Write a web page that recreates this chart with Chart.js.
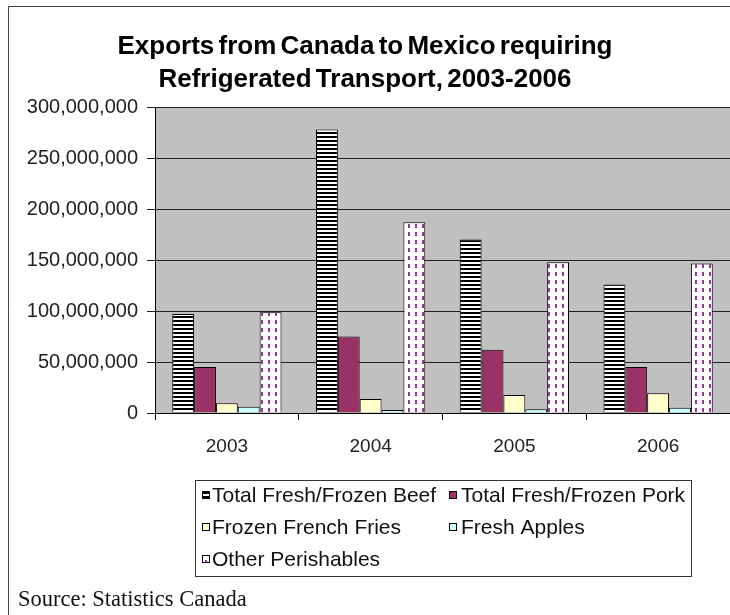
<!DOCTYPE html>
<html lang="en">
<head>
    <meta charset="UTF-8">
    <title>Exports from Canada to Mexico requiring Refrigerated Transport</title>
    <script src="https://cdn.jsdelivr.net/npm/chart.js"></script>
    <style>
        html, body { margin: 0; padding: 0; background: #fff; overflow: hidden; }
        #wrap { position: relative; width: 730px; height: 615px; }
    </style>
</head>
<body>
    <div id="wrap"><canvas id="exportsChart" width="730" height="615"></canvas></div>

    <script>
// values
const years = ['2003', '2004', '2005', '2006'];
const beef = [97000000, 278000000, 170000000, 126000000];
const pork = [45000000, 75000000, 62000000, 45000000];
const fries = [9500000, 13700000, 17600000, 19300000];
const apples = [6200000, 2900000, 3600000, 5200000];
const other = [98700000, 187000000, 147700000, 146700000];
const seriesNames = ['Total Fresh/Frozen Beef', 'Total Fresh/Frozen Pork', 'Frozen French Fries', 'Fresh Apples', 'Other Perishables'];
const yTicks = [0, 50000000, 100000000, 150000000, 200000000, 250000000, 300000000];
const titleLines = ['Exports from Canada to Mexico requiring', 'Refrigerated Transport, 2003-2006'];
const sourceText = 'Source: Statistics Canada';

const SANS = "'Liberation Sans', Arial, sans-serif";

function makePattern(w, h, draw) {
    const c = document.createElement('canvas');
    c.width = w; c.height = h;
    const g = c.getContext('2d');
    draw(g);
    return c.getContext('2d').createPattern(c, 'repeat');
}

// horizontal black/white stripes
const stripes = makePattern(4, 4, g => {
    g.fillStyle = '#fff'; g.fillRect(0, 0, 4, 4);
    g.fillStyle = '#000'; g.fillRect(0, 0, 4, 2);
});
// white with purple dashed vertical lines
const dashes = makePattern(7, 8, g => {
    g.fillStyle = '#fff'; g.fillRect(0, 0, 7, 8);
    g.fillStyle = '#993399'; g.fillRect(2, 0, 2, 4);
});

const fills = [stripes, '#993366', '#FFFFCC', '#CCFFFF', dashes];
const values = [beef, pork, fries, apples, other];

// plot background, outer frame; narrow word gaps for the title
const backdrop = {
    id: 'backdrop',
    beforeDraw(chart) {
        const { ctx, chartArea: a } = chart;
        ctx.save();
        ctx.fillStyle = '#C0C0C0';
        ctx.fillRect(a.left, a.top, a.right - a.left, a.bottom - a.top);
        ctx.strokeStyle = '#444';
        ctx.lineWidth = 1;
        ctx.beginPath();
        ctx.moveTo(8.5, 615);
        ctx.lineTo(8.5, 6.5);
        ctx.lineTo(730, 6.5);
        ctx.stroke();
        ctx.restore();
        ctx.wordSpacing = '-3px';
    }
};

// boxed legend in two columns + source note
const boxLegend = {
    id: 'boxLegend',
    afterDraw(chart) {
        const ctx = chart.ctx;
        ctx.wordSpacing = '0px';
        ctx.save();
        ctx.fillStyle = '#fff';
        ctx.fillRect(195.5, 480.5, 496, 96);
        ctx.strokeStyle = '#333';
        ctx.lineWidth = 1;
        ctx.strokeRect(195.5, 480.5, 496, 96);

        const cols = [[202, 212], [449, 461]];
        const rows = [495, 527, 559];
        ctx.font = '21px ' + SANS;
        ctx.textBaseline = 'middle';
        chart.data.datasets.forEach((ds, i) => {
            const [mx, tx] = cols[i % 2];
            const y = rows[Math.floor(i / 2)];
            ctx.fillStyle = ds.backgroundColor;
            ctx.fillRect(mx, y - 4, 8, 8);
            ctx.strokeStyle = '#000';
            ctx.strokeRect(mx + 0.5, y - 3.5, 7, 7);
            ctx.fillStyle = '#111';
            ctx.fillText(ds.label, tx, y + 1);
        });

        ctx.font = "22.5px 'Liberation Serif', 'Times New Roman', serif";
        ctx.textBaseline = 'alphabetic';
        ctx.fillStyle = '#111';
        ctx.fillText(sourceText, 18, 606);
        ctx.restore();
    }
};

new Chart(document.getElementById('exportsChart'), {
    type: 'bar',
    data: {
        labels: years,
        datasets: seriesNames.map((name, i) => ({
            label: name,
            data: values[i],
            backgroundColor: fills[i],
            borderColor: '#000',
            borderWidth: 1,
            categoryPercentage: 0.76,
            barPercentage: 1.0
        }))
    },
    options: {
        responsive: false,
        animation: false,
        layout: { padding: 0 },
        plugins: {
            legend: { display: false },
            tooltip: { enabled: false },
            title: {
                display: true,
                text: titleLines,
                color: '#000',
                font: { family: SANS, size: 26, weight: 'bold', lineHeight: 1.27 },
                padding: { top: 30, bottom: 11 }
            }
        },
        scales: {
            x: {
                afterFit: s => { s.height = 202; },
                grid: { drawOnChartArea: false, offset: true, tickLength: 7, color: '#000' },
                border: { color: '#000' },
                ticks: { color: '#222', padding: 15, font: { family: SANS, size: 19 } }
            },
            y: {
                min: 0,
                max: 300000000,
                afterFit: s => { s.width = 155; },
                afterBuildTicks: s => { s.ticks = yTicks.map(v => ({ value: v })); },
                grid: { color: '#222', tickLength: 8 },
                border: { color: '#000' },
                ticks: {
                    color: '#222',
                    padding: 9,
                    font: { family: SANS, size: 20 },
                    callback: v => v.toLocaleString('en-US')
                }
            }
        }
    },
    plugins: [backdrop, boxLegend]
});
    </script>
</body>
</html>
